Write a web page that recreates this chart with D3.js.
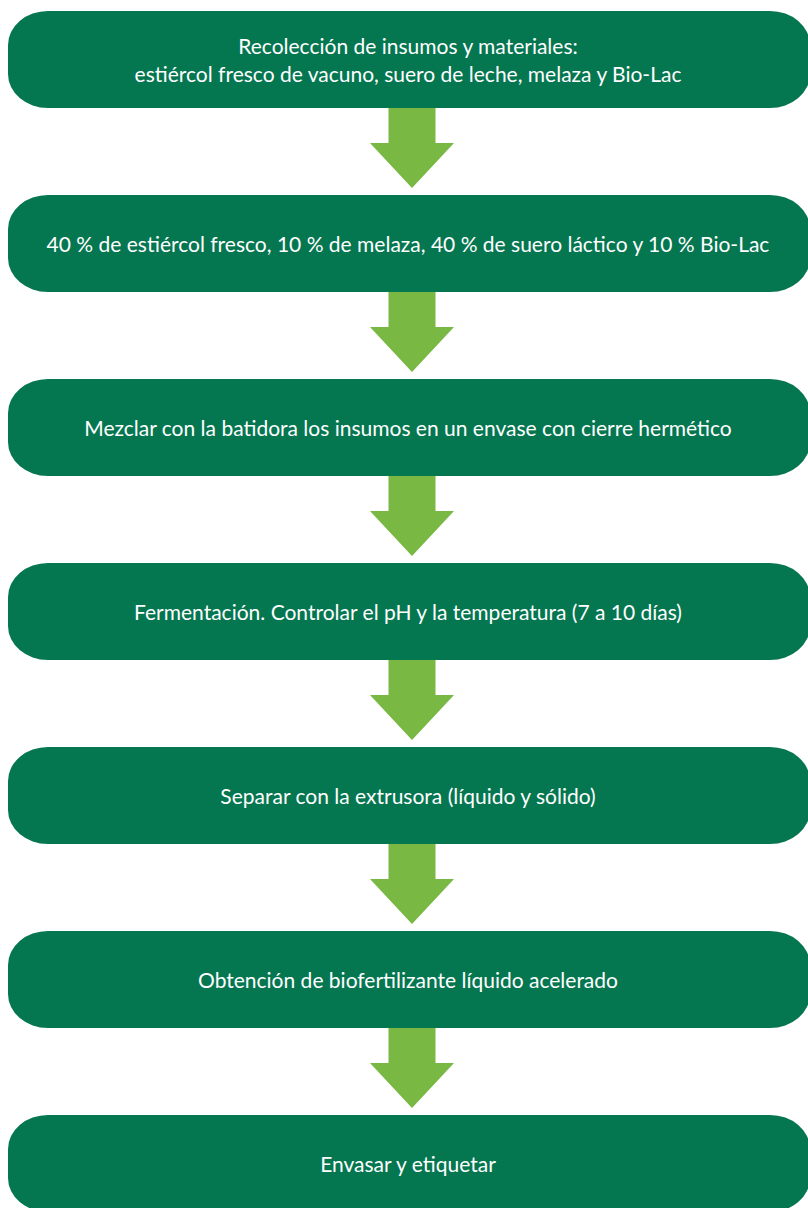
<!DOCTYPE html>
<html>
<head>
<meta charset="utf-8">
<script src="https://cdn.jsdelivr.net/npm/d3@7"></script>
<style>
  html, body { margin: 0; padding: 0; background: #fff; }
  svg { display: block; }
</style>
</head>
<body>
<script>
// flow steps, top to bottom (each entry = lines of text in the box)
var steps = [
  ["Recolección de insumos y materiales:", "estiércol fresco de vacuno, suero de leche, melaza y Bio-Lac"],
  ["40 % de estiércol fresco, 10 % de melaza, 40 % de suero láctico y 10 % Bio-Lac"],
  ["Mezclar con la batidora los insumos en un envase con cierre hermético"],
  ["Fermentación. Controlar el pH y la temperatura (7 a 10 días)"],
  ["Separar con la extrusora (líquido y sólido)"],
  ["Obtención de biofertilizante líquido acelerado"],
  ["Envasar y etiquetar"]
];
var stepIds = d3.range(steps.length);

var width = 808, height = 1208;
var dark = "#047650", light = "#78b843";

var svg = d3.select("body").append("svg")
  .attr("width", width)
  .attr("height", height);

// vertical placement of boxes
var y = d3.scaleBand()
  .domain(stepIds)
  .range([11, 1212])
  .paddingInner(0.4728)
  .paddingOuter(0);

var boxX0 = 8, boxX1 = 810;
var cx = 408;      // text centre
var ax = 412;      // arrow centre
var fontSize = 21, lineGap = 28;

// arrows between boxes
var arrows = stepIds.slice(0, -1);
svg.selectAll("path.arrow")
  .data(arrows)
  .enter().append("path")
  .attr("class", "arrow")
  .attr("fill", light)
  .attr("d", function(i) {
    var top = y(i) + y.bandwidth() - 1;
    var next = y(i + 1);
    var tip = next - 7;
    var neck = top + 36;
    var sw = 23.5, hw = 42;
    return "M" + (ax - sw) + "," + top +
      "L" + (ax + sw) + "," + top +
      "L" + (ax + sw) + "," + neck +
      "L" + (ax + hw) + "," + neck +
      "L" + ax + "," + tip +
      "L" + (ax - hw) + "," + neck +
      "L" + (ax - sw) + "," + neck + "Z";
  });

var g = svg.selectAll("g.step")
  .data(steps)
  .enter().append("g")
  .attr("class", "step")
  .attr("transform", function(d, i) { return "translate(0," + y(i) + ")"; });

g.append("rect")
  .attr("x", boxX0)
  .attr("width", boxX1 - boxX0)
  .attr("height", y.bandwidth())
  .attr("rx", 40)
  .attr("ry", 34)
  .attr("fill", dark);

g.each(function(lines) {
  var mid = y.bandwidth() / 2;
  var first = mid - (lines.length - 1) * lineGap / 2 + 8.5;
  d3.select(this).selectAll("text")
    .data(lines)
    .enter().append("text")
    .attr("x", cx)
    .attr("y", function(d, k) { return first + k * lineGap; })
    .attr("text-anchor", "middle")
    .attr("fill", "#fff")
    .style("font-family", "Lato, 'Open Sans', sans-serif")
    .style("font-size", fontSize + "px")
    .text(function(d) { return d; });
});
</script>
</body>
</html>
